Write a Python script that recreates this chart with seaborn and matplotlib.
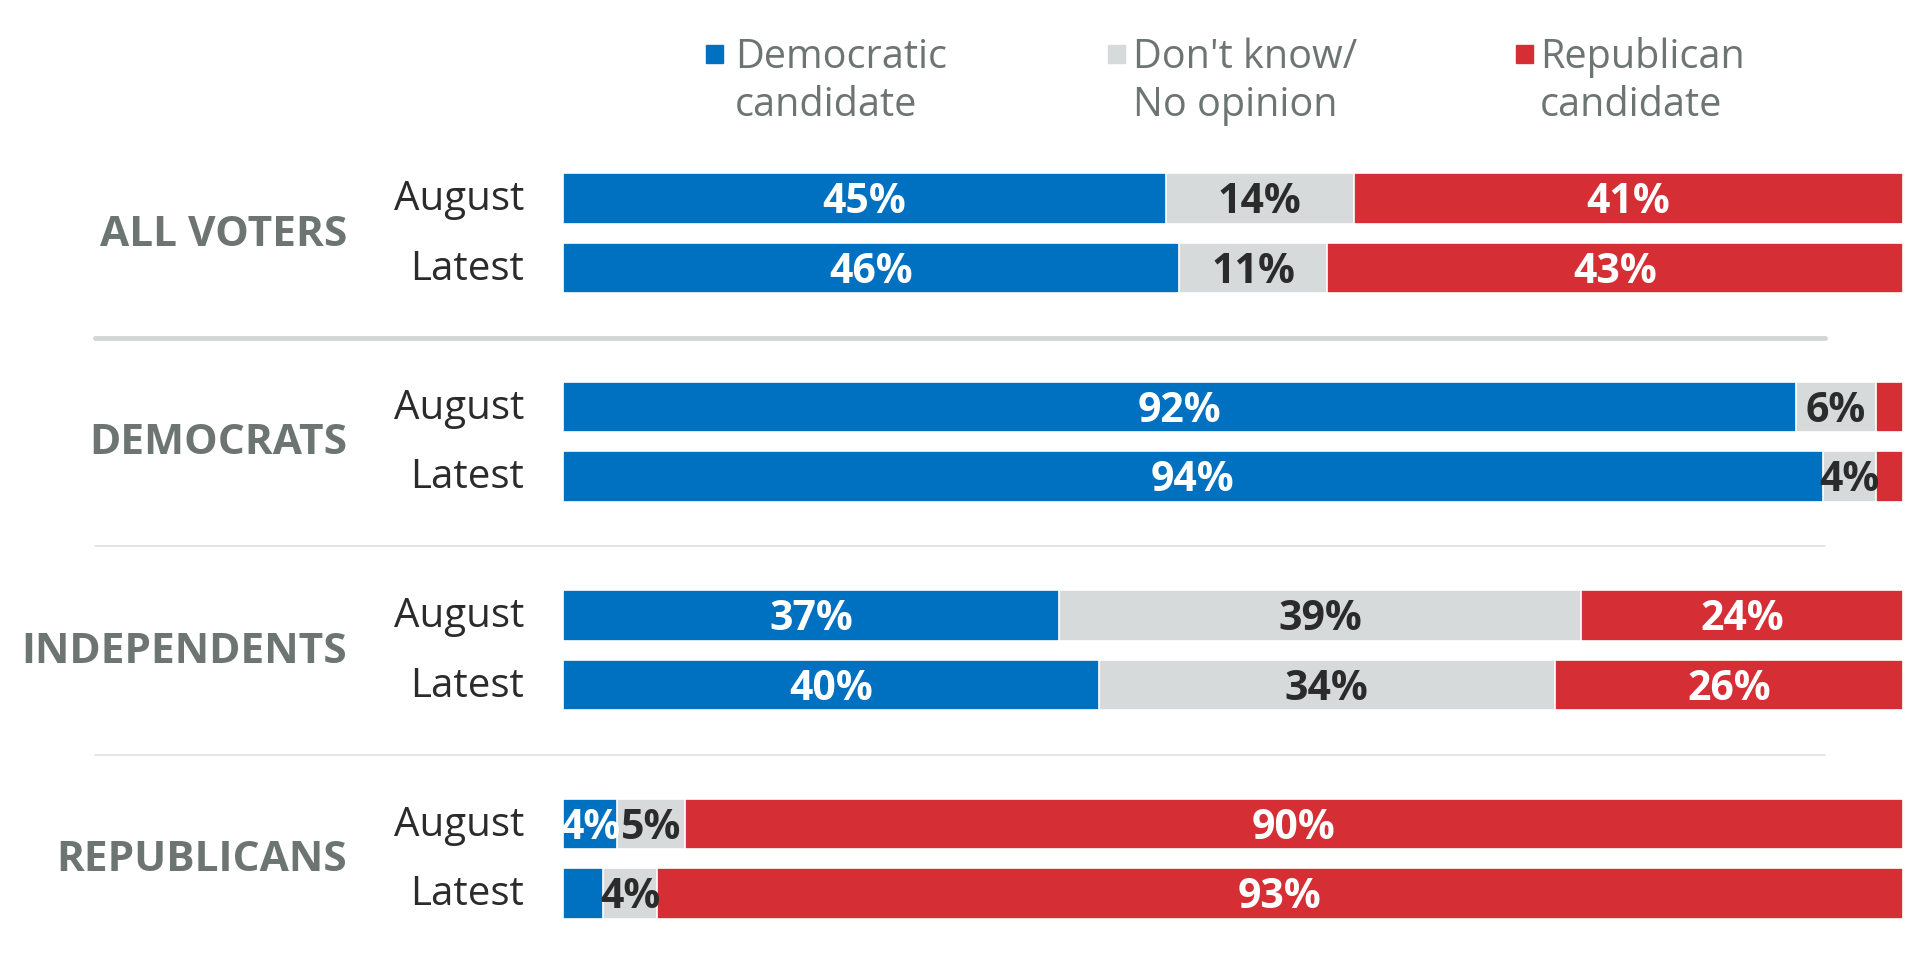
import matplotlib
matplotlib.use("Agg")

import matplotlib.pyplot as plt
from matplotlib.patches import Rectangle
import pandas as pd
import seaborn as sns

sns.set_style("white")
plt.rcParams['font.family'] = ['Open Sans', 'DejaVu Sans']

groups = ["ALL VOTERS", "DEMOCRATS", "INDEPENDENTS", "REPUBLICANS"]
periods = ["August", "Latest"]
dem = [45, 46, 92, 94, 37, 40, 4, 3]
dont_know = [14, 11, 6, 4, 39, 34, 5, 4]
rep = [41, 43, 2, 2, 24, 26, 90, 93]
legend_labels = ["Democratic\ncandidate", "Don't know/\nNo opinion", "Republican\ncandidate"]

BLUE = "#0070c0"
GREY = "#d6dadb"
RED = "#d52f35"
TEXT_GREY = "#6d7573"
TEXT_DARK = "#2b2b2b"

W, H = 1920, 960

rows = []
for i in range(len(dem)):
    g = i // 2
    total = dem[i] + dont_know[i] + rep[i]
    rows.append({
        "pos": g * 3 + i % 2,
        "group": groups[g],
        "period": periods[i % 2],
        "dem": dem[i] / total * 100,
        "dk_end": (dem[i] + dont_know[i]) / total * 100,
        "total": 100.0,
    })
df = pd.DataFrame(rows)

fig = plt.figure(figsize=(W / 100, H / 100), dpi=100)

# bar area in pixels
x0, x1 = 563, 1903
row_c0, row_h = 198.5, 69.5
y_top = row_c0 - 0.75 * row_h
y_bot = row_c0 + 10.75 * row_h
ax = fig.add_axes([x0 / W, 1 - y_bot / H, (x1 - x0) / W, (y_bot - y_top) / H])

# stacked by overdrawing cumulative shares
for col, c in [("total", RED), ("dk_end", GREY), ("dem", BLUE)]:
    sns.barplot(
        data=df, x=col, y="pos", orient="h", native_scale=True,
        color=c, saturation=1, width=0.73, edgecolor="white", linewidth=1.2, ax=ax
    )

ax.set_xlim(0, 100)
ax.set_ylim(10.75, -0.75)
ax.axis("off")

# value labels
for i, r in df.iterrows():
    segs = [
        (0, r["dem"], dem[i], "white"),
        (r["dem"], r["dk_end"], dont_know[i], TEXT_DARK),
        (r["dk_end"], 100, rep[i], "white"),
    ]
    for a, b, v, tc in segs:
        if v >= 4:
            ax.text((a + b) / 2, r["pos"] + 0.06, f"{v}%", ha="center", va="center",
                    fontsize=29.5, fontweight="bold", color=tc)
    ax.text(-0.029, r["pos"] + 0.02, r["period"], transform=ax.get_yaxis_transform(),
            ha="right", va="center", fontsize=29, color=TEXT_DARK)

for g, name in enumerate(groups):
    ax.text(-0.161, g * 3 + 0.5 + 0.03, name, transform=ax.get_yaxis_transform(),
            ha="right", va="center", fontsize=30.5, fontweight="bold", color=TEXT_GREY)

# separators between groups
for k, y in enumerate([2, 5, 8]):
    ax.axhline(y, xmin=(95 - x0) / (x1 - x0), xmax=(1825 - x0) / (x1 - x0),
               color="#d3d6d6" if k == 0 else "#e2e4e4",
               lw=3.5 if k == 0 else 1.3, clip_on=False)

# legend
for (sq_x, tx_x), lab, c in zip([(706, 735), (1108, 1133), (1516, 1540)],
                                legend_labels, [BLUE, GREY, RED]):
    fig.add_artist(Rectangle((sq_x / W, 1 - 63 / H), 17 / W, 18 / H,
                             transform=fig.transFigure, color=c))
    for k, line in enumerate(lab.split("\n")):
        fig.text(tx_x / W, 1 - (68.5 + 48 * k) / H, line, ha="left", va="baseline",
                 fontsize=28.5, color=TEXT_GREY)

plt.savefig("out.png", dpi=100)
